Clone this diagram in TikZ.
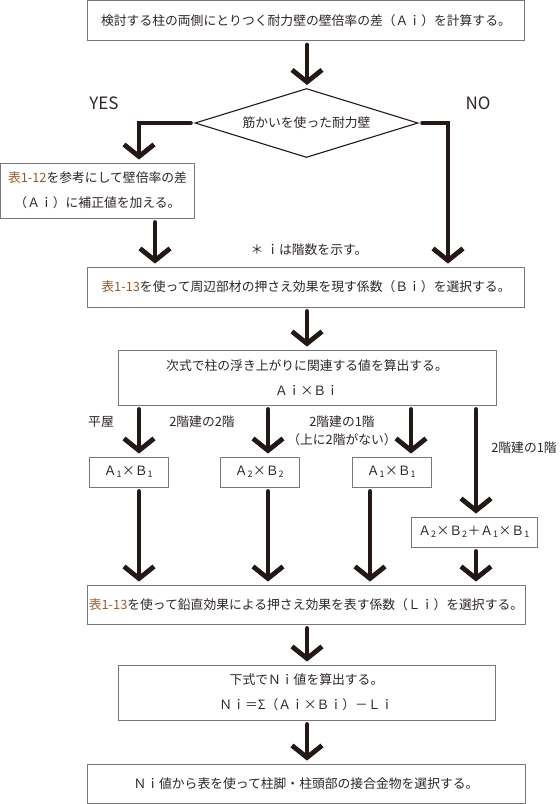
\documentclass[tikz,border=0pt]{standalone}
\usepackage{fontspec}
\setmainfont{Noto Sans CJK JP}
\usetikzlibrary{arrows.meta,shapes.geometric}

\definecolor{inkc}{RGB}{35,24,21}
\definecolor{textc}{RGB}{45,38,36}
\definecolor{framec}{RGB}{120,120,120}
\definecolor{tabc}{RGB}{152,90,45}
\newcommand{\tabref}[1]{\textcolor{tabc}{#1}}

\begin{document}
\begin{tikzpicture}[
    x=1pt, y=-1pt,
    font=\fontsize{12.8}{25}\selectfont,
    text=textc,
    box/.style={
        draw=framec,
        line width=0.9pt,
        inner sep=0pt,
        align=center
    },
    wide/.style={
        box,
        minimum width=437pt,
        minimum height=40pt
    },
    calcbox/.style={
        box,
        minimum width=378pt,
        minimum height=55pt
    },
    term/.style={
        box,
        minimum width=79pt,
        minimum height=30pt
    },
    flow/.style={
        draw=inkc,
        line width=4.8pt,
        line cap=round,
        -{Straight Barb[length=12pt,width=30pt]},
        shorten <=4pt,
        shorten >=3pt
    },
    case/.style={
        font=\fontsize{12.8}{18}\selectfont,
        align=center
    },
    answer/.style={
        font=\fontsize{17}{20}\selectfont
    }
]
    \useasboundingbox (0,0) rectangle (560,804);

    % --- Columns of the arrows ---
    \coordinate (mid) at (307,0);
    \coordinate (yes) at (139,0);
    \coordinate (yes2) at (155,0);
    \coordinate (no) at (448,0);
    \coordinate (k1) at (139,0);
    \coordinate (k2) at (268,0);
    \coordinate (k3) at (411,0);
    \coordinate (k4) at (476,0);
    \coordinate (m3) at (370,0);

    % --- Start and decision ---
    \node[wide] (start) at (306,20.5) {検討する柱の両側にとりつく耐力壁の壁倍率の差（Ａｉ）を計算する。};
    \node[box, draw=inkc, line width=1.1pt, diamond, aspect=3.2, minimum width=223pt, minimum height=69pt] (brace) at (306.5,123) {筋かいを使った耐力壁};
    \node[answer] (yeslbl) at (104,103) {YES};
    \node[answer] (nolbl) at (478,103) {NO};

    % --- YES side ---
    \node[box, minimum width=194pt, minimum height=55pt] (hosei) at (97.5,190.5) {\tabref{表1-12}を参考にして壁倍率の差\\（Ａｉ）に補正値を加える。};
    \node (note) at (309,250) {＊ ｉは階数を示す。};

    % --- Bi and calculation ---
    \node[wide] (bi) at (306,287) {\tabref{表1-13}を使って周辺部材の押さえ効果を現す係数（Ｂｉ）を選択する。};
    \node[calcbox] (calc) at (307,377.5) {次式で柱の浮き上がりに関連する値を算出する。\\Ａｉ×Ｂｉ};

    % --- Cases ---
    \node[case] (c1) at (101,422) {平屋};
    \node[case] (c2) at (202,422) {2階建の2階};
    \node[case] (c3) at (342,431) {2階建の1階\\（上に2階がない）};
    \node[case] (c4) at (524,448) {2階建の1階};

    \node[term] (hira) at (128.5,472) {Ａ\textsubscript{1}×Ｂ\textsubscript{1}};
    \node[term] (nikai) at (259.5,472) {Ａ\textsubscript{2}×Ｂ\textsubscript{2}};
    \node[term] (ikkai) at (391.5,472) {Ａ\textsubscript{1}×Ｂ\textsubscript{1}};
    \node[term, minimum width=126pt] (sum) at (474,532) {Ａ\textsubscript{2}×Ｂ\textsubscript{2}＋Ａ\textsubscript{1}×Ｂ\textsubscript{1}};

    % --- Li, Ni and result ---
    \node[wide, minimum width=438pt, minimum height=39pt] (li) at (306,604.5) {\tabref{表1-13}を使って鉛直効果による押さえ効果を表す係数（Ｌｉ）を選択する。};
    \node[calcbox, minimum width=377pt] (ni) at (306.5,692.5) {下式でＮｉ値を算出する。\\Ｎｉ＝Σ（Ａｉ×Ｂｉ）－Ｌｉ};
    \node[wide, minimum width=438pt, minimum height=39pt] (sel) at (306,783.5) {Ｎｉ値から表を使って柱脚・柱頭部の接合金物を選択する。};

    % --- Arrows ---
    \draw[flow] (start.south -| mid) -- (brace.north -| mid);
    \draw[flow] (brace.west) -| (hosei.north -| yes);
    \draw[flow] (brace.east) -| (bi.north -| no);
    \draw[flow] (hosei.south -| yes2) -- (bi.north -| yes2);
    \draw[flow] (bi.south -| mid) -- (calc.north -| mid);

    \draw[flow] (calc.south -| k1) -- (hira.north -| k1);
    \draw[flow] (calc.south -| k2) -- (nikai.north -| k2);
    \draw[flow] (calc.south -| k3) -- (ikkai.north -| k3);
    \draw[flow] (calc.south -| k4) -- (sum.north -| k4);

    \draw[flow] (hira.south -| k1) -- (li.north -| k1);
    \draw[flow] (nikai.south -| k2) -- (li.north -| k2);
    \draw[flow] (ikkai.south -| m3) -- (li.north -| m3);
    \draw[flow] (sum.south -| k4) -- (li.north -| k4);

    \draw[flow] (li.south -| mid) -- (ni.north -| mid);
    \draw[flow] (ni.south -| mid) -- (sel.north -| mid);
\end{tikzpicture}
\end{document}
